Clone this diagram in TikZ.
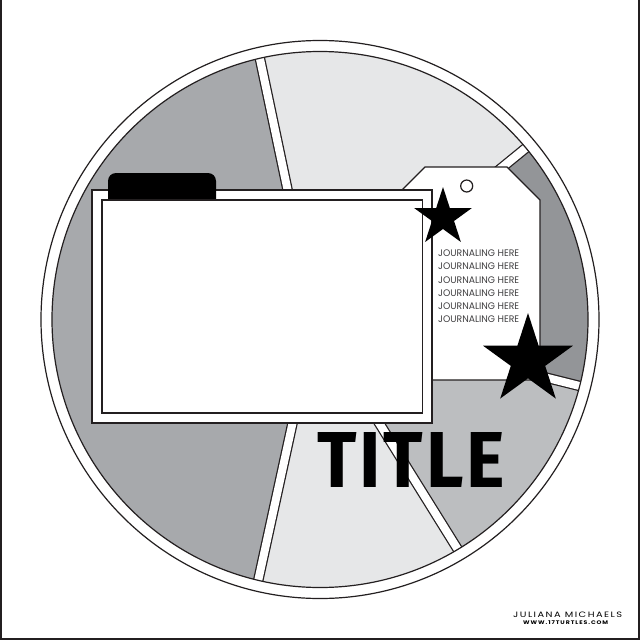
\documentclass[tikz,border=0pt]{standalone}
\usepackage{fontspec}
\usepackage{graphicx}
\usetikzlibrary{shapes.geometric}
\newfontfamily\jfont{Poppins}
\newfontfamily\tfont{Fira Sans}[LetterSpace=4]
\newfontfamily\cfont{Poppins}[LetterSpace=15]
\definecolor{secA}{HTML}{A7A9AC}
\definecolor{secB}{HTML}{E6E7E8}
\definecolor{secC}{HTML}{939598}
\definecolor{secD}{HTML}{BCBEC0}
\definecolor{secE}{HTML}{E6E7E8}
\definecolor{ink}{HTML}{231F20}
\definecolor{jgray}{HTML}{414042}
\tikzset{
  outline/.style={draw=ink, line width=1.2pt},
  cardline/.style={draw=ink, line width=1.2pt},
  starfill/.style={star, star points=5, star point ratio=2.618, inner sep=0pt, fill=black, draw=none},
  jtext/.style={anchor=base west, inner sep=0pt, text=jgray},
  plain/.style={anchor=base west, inner sep=0pt},
}
\begin{document}
\begin{tikzpicture}[x=1pt,y=-1pt, line join=miter]
\useasboundingbox (0,0) rectangle (640,640);
\fill[white] (0,0) rectangle (640,640);
\draw[line width=1.6pt, ink] (1,0) -- (1,639) -- (639,639) -- (639,0);
\coordinate (O) at (320,319.5);
\coordinate (P) at (315,320);
\draw[outline, fill=white] (O) circle[radius=279];
\begin{scope}
  \clip (O) circle[radius=268];
  \fill[secB] (P) -- ++(-101.9:500) arc[start angle=-101.9, end angle=-39.2, radius=500] -- cycle;
  \fill[secC] (P) -- ++(-39.2:500) arc[start angle=-39.2, end angle=14, radius=500] -- cycle;
  \fill[secD] (P) -- ++(14:500) arc[start angle=14, end angle=58.1, radius=500] -- cycle;
  \fill[secE] (P) -- ++(58.1:500) arc[start angle=58.1, end angle=102.3, radius=500] -- cycle;
  \fill[secA] (P) -- ++(102.3:500) arc[start angle=102.3, end angle=258.1, radius=500] -- cycle;
  \foreach \a in {-101.9,-39.2,14,58.1,102.3} {
    \draw[ink, line width=10.5pt] (P) -- ++(\a:500);
    \draw[white, line width=8pt] (P) -- ++(\a:500);
  }
\end{scope}
\draw[outline] (O) circle[radius=268];
% tag
\draw[outline, fill=white] (400,380) -- (400,192) -- (425,167) -- (507,167) -- (540,200) -- (540,380) -- cycle;
\draw[outline, fill=white] (466.7,186) circle[radius=6];
% card
\draw[cardline, fill=white] (92,190) rectangle (432,423);
\fill[black, rounded corners=8pt] (108,210) -- (108,173) -- (216,173) -- (216,210) -- cycle;
\draw[cardline, fill=white] (102,200) rectangle (422.5,413);
% journaling
\foreach \i in {0,...,5}
  \node[jtext] (j\i) at (438,256.6+13.2*\i) {\resizebox{81pt}{6.7pt}{\jfont JOURNALING HERE}};
% stars
\node[starfill, minimum size=60.8pt] (star1) at (443,217.4) {};
\node[starfill, minimum size=94.6pt] (star2) at (528,360.3) {};
% title
\node[plain] (title) at (317,487) {\resizebox{188pt}{55pt}{\tfont\bfseries TITLE}};
% credits
\node[plain] (name) at (513,617.5) {\resizebox{109pt}{5.5pt}{\cfont JULIANA MICHAELS}};
\node[plain] (web) at (523,624.7) {\resizebox{85pt}{3.8pt}{\cfont\bfseries WWW.17TURTLES.COM}};
\end{tikzpicture}
\end{document}
